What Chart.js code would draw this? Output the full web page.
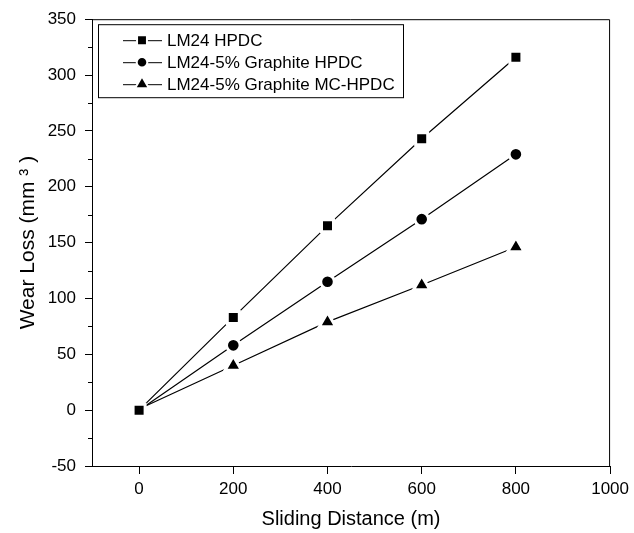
<!DOCTYPE html>
<html>
<head>
<meta charset="utf-8">
<script src="https://cdn.jsdelivr.net/npm/chart.js@4.4.1/dist/chart.umd.min.js"></script>
<style>
  html, body { margin: 0; padding: 0; background: #fff; }
  #wrap { width: 634px; height: 533px; }
</style>
</head>
<body>
<div id="wrap"><canvas id="wearChart" width="634" height="533"></canvas></div>
<script>
// ─── DATA ──────────────────────────────────────────────────
const distance     = [0, 200, 400, 600, 800];
const lm24Hpdc     = [0, 83, 165, 243, 316];
const graphiteHpdc = [0, 58, 115, 171, 229];
const graphiteMc   = [1, 40, 79, 112, 146];
const seriesNames  = ['LM24 HPDC', 'LM24-5% Graphite HPDC', 'LM24-5% Graphite MC-HPDC'];
const xTicks       = [0, 200, 400, 600, 800, 1000];
const yTicks       = [-50, 0, 50, 100, 150, 200, 250, 300, 350];
const yMinorTicks  = [-25, 25, 75, 125, 175, 225, 275, 325];

const FONT = "'Liberation Sans', Arial, sans-serif";

const toPoints = ys => distance.map((x, i) => ({ x, y: ys[i] }));

function series(label, values, style, radius) {
  return {
    label,
    data: toPoints(values),
    showLine: true,
    borderColor: '#000',
    borderWidth: 1.2,
    pointStyle: style,
    pointRadius: radius,
    pointHoverRadius: radius,
    pointBackgroundColor: '#000',
    pointBorderColor: '#fff',
    pointBorderWidth: 3,
  };
}

// ─── FRAME / MINOR TICKS / LEGEND ──────────────────────────
const framePlugin = {
  id: 'frame',
  afterDraw(chart) {
    const { ctx, chartArea: a, scales: { y } } = chart;
    ctx.save();
    ctx.strokeStyle = '#000';
    ctx.lineWidth = 1;
    ctx.beginPath();
    ctx.moveTo(a.left, a.top + 0.5);
    ctx.lineTo(a.right - 0.5, a.top + 0.5);
    ctx.lineTo(a.right - 0.5, a.bottom);
    ctx.stroke();

    // minor ticks on the y axis
    ctx.beginPath();
    yMinorTicks.forEach(v => {
      const py = Math.round(y.getPixelForValue(v)) + 0.5;
      ctx.moveTo(a.left - 4, py);
      ctx.lineTo(a.left, py);
    });
    ctx.stroke();

    // legend box
    const bx = a.left + 6, by = a.top + 5, bw = 305, bh = 73;
    ctx.strokeRect(bx + 0.5, by + 0.5, bw, bh);
    ctx.font = `17px ${FONT}`;
    ctx.textBaseline = 'middle';
    chart.data.datasets.forEach((ds, i) => {
      const ly = by + 16 + i * 22;
      ctx.beginPath();
      ctx.moveTo(bx + 25, ly + 0.5);
      ctx.lineTo(bx + 64, ly + 0.5);
      ctx.stroke();
      ctx.fillStyle = '#000';
      ctx.strokeStyle = '#fff';
      ctx.lineWidth = 2;
      Chart.helpers.drawPoint(ctx, { pointStyle: ds.pointStyle, radius: ds.pointRadius - 1.5, borderWidth: 2, rotation: 0 }, bx + 44, ly);
      ctx.strokeStyle = '#000';
      ctx.lineWidth = 1;
      ctx.fillText(ds.label, bx + 69, ly + 1);
    });
    ctx.restore();
  }
};

new Chart(document.getElementById('wearChart'), {
  type: 'scatter',
  data: {
    datasets: [
      series(seriesNames[0], lm24Hpdc, 'rect', 8.5),
      series(seriesNames[1], graphiteHpdc, 'circle', 6.8),
      series(seriesNames[2], graphiteMc, 'triangle', 9.5),
    ],
  },
  options: {
    responsive: false,
    animation: false,
    devicePixelRatio: 1,
    layout: { padding: { top: 17, right: 16, left: 0, bottom: 0 } },
    plugins: { legend: { display: false }, tooltip: { enabled: false } },
    scales: {
      x: {
        type: 'linear',
        min: -100,
        max: 1000,
        afterBuildTicks: s => { s.ticks = xTicks.map(value => ({ value })); },
        afterFit: s => { s.height = 67; },
        grid: { drawOnChartArea: false, tickLength: 8, color: '#000' },
        border: { color: '#000', width: 1 },
        ticks: { color: '#000', autoSkip: false, maxRotation: 0, padding: 5, font: { family: FONT, size: 17 }, callback: v => String(v) },
        title: { display: true, text: 'Sliding Distance (m)', color: '#000', font: { family: FONT, size: 20 }, padding: { top: 0, bottom: 2 } },
      },
      y: {
        min: -50,
        max: 350,
        afterBuildTicks: s => { s.ticks = yTicks.map(value => ({ value })); },
        afterFit: s => { s.width = 92; },
        grid: { drawOnChartArea: false, tickLength: 7, color: '#000' },
        border: { color: '#000', width: 1 },
        ticks: { color: '#000', autoSkip: false, padding: 9, font: { family: FONT, size: 17 }, callback: v => String(v) },
        title: { display: true, text: 'Wear Loss (mm ³ )', color: '#000', font: { family: FONT, size: 21 }, padding: { top: 16, bottom: 0 } },
      },
    },
  },
  plugins: [framePlugin],
});
</script>
</body>
</html>
